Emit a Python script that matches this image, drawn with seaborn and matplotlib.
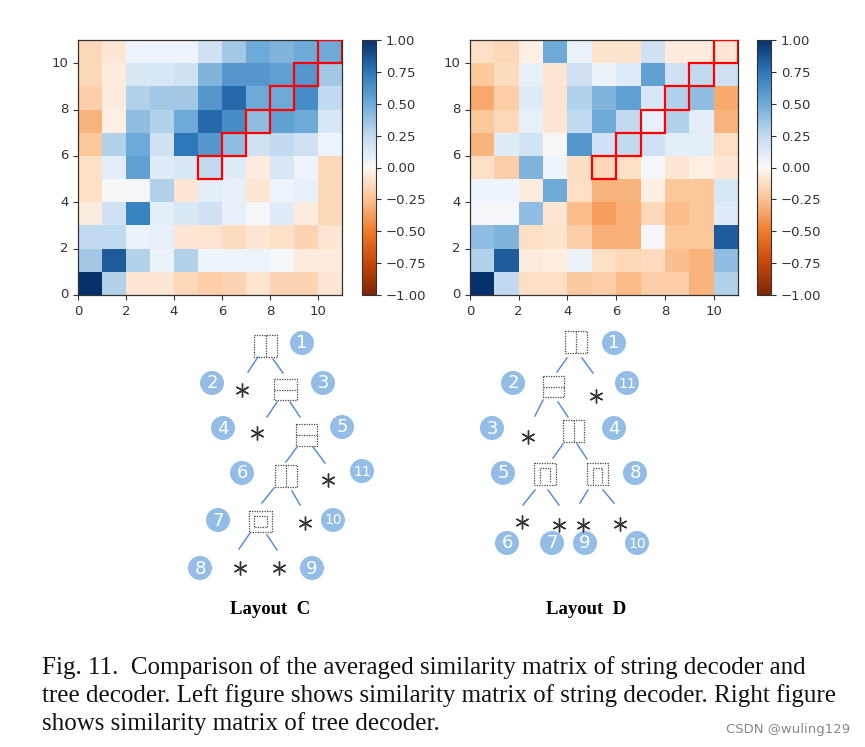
import numpy as np
import pandas as pd
import matplotlib
matplotlib.use("Agg")
import matplotlib.pyplot as plt
import seaborn as sns
from matplotlib.colors import LinearSegmentedColormap
from matplotlib.patches import Rectangle, Circle

# averaged similarity matrices, row 0 = bottom (position 0) ... row 10 = top
sim_string = [
    [1.00, 0.30, -0.08, -0.08, -0.15, -0.19, -0.17, -0.09, -0.17, -0.17, -0.09],
    [0.35, 0.85, 0.30, 0.07, 0.30, 0.05, 0.05, 0.06, 0.03, -0.06, -0.06],
    [0.25, 0.25, 0.07, 0.08, -0.08, -0.09, -0.14, -0.08, -0.11, -0.17, -0.09],
    [-0.06, 0.20, 0.70, 0.10, 0.15, 0.20, 0.08, 0.03, 0.12, -0.06, -0.15],
    [-0.11, 0.02, 0.03, 0.30, -0.08, 0.10, 0.08, -0.08, 0.05, 0.08, -0.15],
    [-0.11, 0.10, 0.55, 0.12, 0.15, 0.25, 0.12, -0.06, 0.15, 0.05, -0.15],
    [-0.23, 0.30, 0.50, 0.20, 0.75, 0.60, 0.40, 0.20, 0.25, 0.20, 0.05],
    [-0.30, -0.04, 0.40, 0.30, 0.50, 0.80, 0.65, 0.40, 0.55, 0.50, 0.15],
    [-0.19, -0.06, 0.30, 0.35, 0.35, 0.60, 0.80, 0.50, 0.50, 0.65, 0.25],
    [-0.15, -0.06, 0.15, 0.15, 0.20, 0.45, 0.60, 0.60, 0.55, 0.60, 0.35],
    [-0.15, -0.08, 0.05, 0.05, 0.05, 0.20, 0.35, 0.50, 0.45, 0.50, 0.50],
]
sim_tree = [
    [1.00, 0.25, -0.12, -0.12, -0.22, -0.20, -0.28, -0.20, -0.20, -0.30, 0.30],
    [0.30, 0.85, -0.06, -0.05, 0.07, -0.12, -0.15, -0.14, -0.26, -0.30, 0.40],
    [0.40, 0.45, -0.12, -0.10, -0.20, -0.32, -0.32, 0.03, -0.23, -0.23, 0.85],
    [0.03, 0.03, 0.40, -0.08, -0.27, -0.38, -0.32, -0.15, -0.27, -0.23, 0.12],
    [0.05, 0.05, -0.06, 0.50, -0.12, -0.30, -0.30, -0.04, -0.23, -0.23, 0.15],
    [-0.12, -0.20, 0.45, 0.05, -0.12, -0.15, -0.12, 0.03, -0.08, -0.04, -0.08],
    [-0.30, 0.12, 0.18, 0.02, 0.60, 0.20, 0.25, 0.20, 0.10, 0.10, -0.12],
    [-0.22, -0.15, 0.08, -0.08, 0.25, 0.50, 0.25, 0.08, 0.30, 0.10, -0.30],
    [-0.34, -0.20, 0.12, -0.08, 0.30, 0.45, 0.55, 0.15, 0.30, 0.40, -0.34],
    [-0.22, -0.14, 0.08, -0.08, 0.20, 0.07, 0.12, 0.55, 0.20, 0.25, 0.20],
    [-0.12, -0.15, -0.04, 0.50, 0.07, -0.10, -0.10, 0.20, -0.06, -0.06, -0.08],
]
highlight = [5, 6, 7, 8, 9, 10]   # diagonal cells boxed in red
tick_vals = [0, 2, 4, 6, 8, 10]
cbar_ticks = [-1.0, -0.75, -0.5, -0.25, 0.0, 0.25, 0.5, 0.75, 1.0]

# tree layouts: (label, x, y) of the numbered circles
nodes_c = [("1", 302, 343), ("2", 212, 383), ("3", 323, 383), ("4", 223, 428),
           ("5", 342, 427), ("6", 242, 473), ("11", 362, 471), ("7", 218, 520),
           ("10", 333, 520), ("8", 200, 568), ("9", 312, 568)]
nodes_d = [("1", 614, 343), ("2", 513, 383), ("11", 627, 383), ("3", 492, 428),
           ("4", 614, 428), ("5", 503, 473), ("8", 635, 473), ("6", 507, 543),
           ("7", 552, 543), ("9", 585, 543), ("10", 637, 543)]
# glyph boxes: (x, y, w, h, kind)
boxes_c = [(254, 335, 23, 22, "v"), (274, 379, 23, 21, "h"), (296, 424, 21, 22, "h"),
           (275, 465, 22, 22, "v"), (249, 511, 23, 21, "n")]
boxes_d = [(565, 331, 22, 22, "v"), (543, 376, 21, 21, "h"), (563, 420, 21, 22, "v"),
           (534, 463, 22, 22, "u"), (587, 463, 21, 22, "u")]
edges_c = [(258, 357, 248, 372), (273, 359, 283, 373), (277, 402, 267, 417),
           (290, 402, 300, 417), (297, 447, 286, 462), (313, 447, 325, 463),
           (274, 488, 262, 503), (292, 491, 300, 505), (250, 533, 239, 549),
           (267, 535, 277, 550)]
edges_d = [(567, 358, 557, 372), (582, 358, 593, 373), (543, 400, 535, 416),
           (558, 402, 568, 417), (563, 444, 553, 458), (577, 444, 587, 459),
           (535, 490, 523, 505), (548, 490, 559, 505), (588, 490, 580, 503),
           (603, 490, 614, 503)]
stars_c = [(242, 390), (257, 433), (328, 480), (305, 523), (240, 568), (279, 568)]
stars_d = [(596, 396), (528, 437), (522, 522), (559, 525), (583, 525), (620, 524)]

cmap = LinearSegmentedColormap.from_list(
    "orbl", [(0.0, "#7f2704"), (0.125, "#c8470a"), (0.25, "#f07c2c"),
             (0.375, "#fbc394"), (0.475, "#fdeee0"), (0.5, "#fbf8f6"),
             (0.525, "#eef4fb"), (0.625, "#c4dbef"), (0.75, "#6fabd8"),
             (0.875, "#2d79bc"), (1.0, "#08306b")])

fig = plt.figure(figsize=(8.65, 7.47), dpi=100)
W, H = 865, 747


def draw_matrix(mat, rect, cbar_rect):
    ax = fig.add_axes(rect)
    cax = fig.add_axes(cbar_rect)
    sns.heatmap(pd.DataFrame(mat), ax=ax, cbar_ax=cax, cmap=cmap, vmin=-1, vmax=1,
                square=False, cbar_kws={"ticks": cbar_ticks})
    n = len(mat)
    ax.set_xlim(0, n)
    ax.set_ylim(0, n)
    ax.set_xticks(tick_vals)
    ax.set_yticks(tick_vals)
    ax.set_xticklabels([str(t) for t in tick_vals], rotation=0)
    ax.set_yticklabels([str(t) for t in tick_vals], rotation=0)
    ax.tick_params(labelsize=9.5, colors="#333333", length=3.5, width=0.8)
    for sp in ax.spines.values():
        sp.set_visible(True)
        sp.set_color("#333333")
        sp.set_linewidth(0.9)
    for k in highlight:
        ax.add_patch(Rectangle((k, k), 1, 1, fill=False, edgecolor="red",
                               linewidth=1.6, zorder=5))
    cb = ax.collections[0].colorbar
    cb.outline.set_visible(True)
    cb.outline.set_linewidth(0.8)
    cb.outline.set_edgecolor("#333333")
    cax.tick_params(labelsize=9.5, colors="#333333", length=3.5, width=0.8)
    return ax


draw_matrix(sim_string, [78 / W, 1 - 295 / H, 264 / W, 255 / H],
            [362 / W, 1 - 295 / H, 14 / W, 255 / H])
draw_matrix(sim_tree, [470 / W, 1 - 295 / H, 268 / W, 255 / H],
            [757 / W, 1 - 295 / H, 14 / W, 255 / H])

# overlay for tree diagrams and captions (pixel coordinates)
ov = fig.add_axes([0, 0, 1, 1], zorder=-1)
ov.set_xlim(0, W)
ov.set_ylim(H, 0)
ov.axis("off")


def draw_tree(nodes, boxes, edges, stars):
    for x1, y1, x2, y2 in edges:
        ov.plot([x1, x2], [y1, y2], color="#5b8fd6", linewidth=1.1)
    for x, y, w, h, kind in boxes:
        ov.add_patch(Rectangle((x, y), w, h, fill=False, edgecolor="#444444",
                               linestyle=(0, (1, 1)), linewidth=0.9))
        if kind == "v":
            ov.plot([x + w / 2, x + w / 2], [y, y + h], color="#444444",
                    linestyle=(0, (1, 1)), linewidth=0.9)
        elif kind == "h":
            ov.plot([x, x + w], [y + h / 2, y + h / 2], color="#444444",
                    linestyle=(0, (1, 1)), linewidth=0.9)
        elif kind == "n":
            ov.add_patch(Rectangle((x + 5, y + 5), w - 10, h - 10, fill=False,
                                   edgecolor="#444444", linestyle=(0, (1, 1)),
                                   linewidth=0.9))
        elif kind == "u":
            ov.plot([x + 6, x + 6, x + w - 6, x + w - 6], [y + h - 2, y + 5, y + 5, y + h - 2],
                    color="#444444", linestyle=(0, (1, 1)), linewidth=0.9)
    for lab, x, y in nodes:
        ov.add_patch(Circle((x, y), 12, color="#94bde6", linewidth=0))
        ov.text(x, y + 0.5, lab, ha="center", va="center", color="white",
                fontsize=13 if len(lab) == 1 else 10, family="DejaVu Sans")
    sx = [s[0] for s in stars]
    sy = [s[1] for s in stars]
    ov.plot(sx, sy, linestyle="none", marker=(6, 2, 0), markersize=10,
            markeredgewidth=1.0, color="#333333")


draw_tree(nodes_c, boxes_c, edges_c, stars_c)
draw_tree(nodes_d, boxes_d, edges_d, stars_d)

ov.text(270, 610, "Layout  C", ha="center", va="center", fontsize=13.5,
        fontweight="bold", family="Liberation Serif")
ov.text(586, 610, "Layout  D", ha="center", va="center", fontsize=13.5,
        fontweight="bold", family="Liberation Serif")

caption = ["Fig. 11.  Comparison of the averaged similarity matrix of string decoder and",
           "tree decoder. Left figure shows similarity matrix of string decoder. Right figure",
           "shows similarity matrix of tree decoder."]
for i, line in enumerate(caption):
    ov.text(42, 668 + i * 28, line, ha="left", va="center", fontsize=18,
            family="Liberation Serif", color="#111111")
ov.text(850, 729, "CSDN @wuling129", ha="right", va="center", fontsize=9.5,
        color="#888888", family="DejaVu Sans")

fig.savefig("out.png", dpi=100)
